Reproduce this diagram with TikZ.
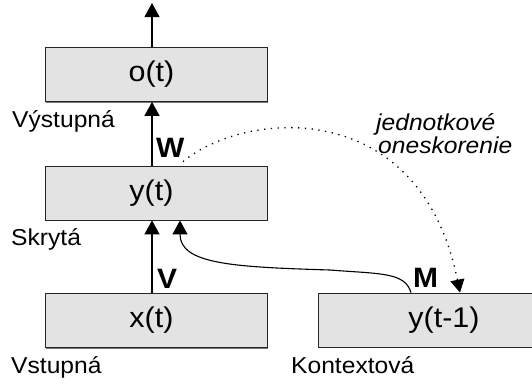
\documentclass[tikz,border=0pt]{standalone}
\usepackage{fontspec}
\setmainfont[FakeStretch=1.07]{Liberation Sans}
\usetikzlibrary{arrows.meta,shadows}
\begin{document}
\begin{tikzpicture}[x=1pt,y=-1pt,
  box/.style={draw=black!85, line width=0.8pt, fill=black!11, minimum height=54pt,
    minimum width=222pt, inner sep=0pt, font=\fontsize{28.5}{32}\selectfont,
    drop shadow={shadow xshift=1.2pt, shadow yshift=-1.2pt, fill=black!55, opacity=1}},
  lab/.style={anchor=base west, inner sep=0pt, font=\fontsize{23}{26}\selectfont},
  wlab/.style={anchor=base west, inner sep=0pt, font=\fontsize{28}{30}\selectfont\bfseries},
  ilab/.style={anchor=base west, inner sep=0pt, font=\fontsize{23}{26}\selectfont\itshape},
  arr/.style={line width=1.1pt, -{Triangle[length=14pt,width=15pt]}},
  dotarr/.style={line width=1.3pt, dash pattern=on 1.3pt off 5.5pt, -{Triangle[length=13pt,width=14pt]}}
]
\clip (0,0) rectangle (532,383);
\fill[white] (0,0) rectangle (532,383);

\node[box] (ot) at (156,74.5) {\hspace*{-9pt}o(t)};
\node[box] (yt) at (156,193) {\hspace*{-9pt}y(t)};
\node[box] (xt) at (156,320.5) {\hspace*{-9pt}x(t)};
\node[box, minimum width=252pt] (ytm) at (444,320) {y(t-1)};

\node[lab] (lout) at (12,127) {Výstupná};
\node[lab] (lhid) at (11,245) {Skrytá};
\node[lab] (lin) at (11,373) {Vstupná};
\node[lab] (lctx) at (291,373) {Kontextová};

\node[wlab] (lw) at (156,157) {W};
\node[wlab] (lv) at (157,288) {V};
\node[wlab] (lm) at (413,287) {M};

\node[ilab] (d1) at (376,130) {jednotkové};
\node[ilab] (d2) at (378,153) {oneskorenie};

\coordinate (topend) at (152,3);
\draw[arr] ([xshift=-4pt]ot.north) -- (topend);
\draw[arr] ([xshift=-4pt]yt.north) -- ([xshift=-4pt]ot.south);
\draw[arr] ([xshift=-4pt]xt.north) -- ([xshift=-4pt]yt.south);

\draw[arr] ([xshift=-33pt]ytm.north) .. controls (405,272) and (380,274) .. (330,270)
  .. controls (232,267) and (180,264) .. ([xshift=24pt]yt.south);

\draw[dotarr] ([xshift=27pt,yshift=4pt]yt.north) .. controls (245,110) and (420,95) .. ([xshift=16pt]ytm.north);
\end{tikzpicture}
\end{document}
